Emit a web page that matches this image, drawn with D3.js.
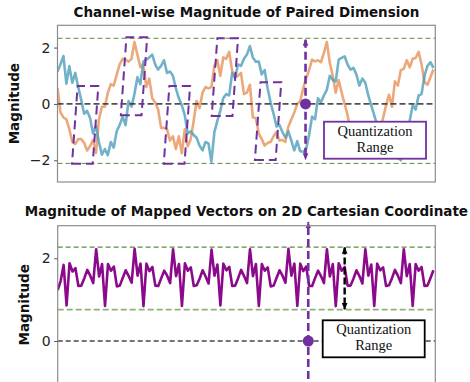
<!DOCTYPE html>
<html>
<head>
<meta charset="utf-8">
<script src="https://cdn.jsdelivr.net/npm/d3@7"></script>
<style>
  body { margin: 0; background: #fff; }
</style>
</head>
<body>
<div id="chart"></div>
<script>
// ---- data ----
const orangeVals = [0.56,-0.3,-0.48,-0.55,-0.9,-1.35,-1.42,-1.25,-1.25,-1.38,
  -1.65,-1.5,-1.28,-1.74,-0.55,-0.1,-0.1,0.39,0.7,0.65,
  1.04,1.4,1.6,1.57,1.5,1.6,2.2,1.75,1.3,1.4,
  0.6,0.9,0.2,0.05,-0.2,-0.85,-0.85,-0.9,-1.3,-1.15,
  -1.6,-1.15,-1.75,-0.9,-1.5,-1.25,-0.6,0.1,-0.15,0.4,
  0.6,0.55,0.6,1.35,1.55,1.0,1.65,1.6,1.85,1.18,
  0.95,1.0,1.1,0.35,0.4,0.68,-0.48,-0.5,-1.05,-1.25,
  -1.48,-1.38,-1.35,-1.15,-1.0,-1.3,-1.28,-1.35,-0.8,-0.55,
  -0.3,0.0,0.1,0.55,0.9,1.2,1.57,1.51,1.55,1.48,
  1.8,2.2,1.45,1.0,0.4,0.85,0.4,0.0,-0.4,-0.95,
  -1.25,-1.5,-1.65,-1.8,-1.7,-1.6,-1.75,-1.4,-1.2,-0.9,
  -0.5,-0.05,0.33,-0.1,0.8,0.65,1.2,1.25,1.55,1.3,
  1.6,1.63,1.85,1.4,0.78,0.68,0.95,1.22];

const blueVals = [1.15,1.4,1.7,0.72,1.34,0.75,1.1,0.6,0.15,-0.35,
  -0.25,-0.5,-1.05,-0.78,-1.35,-1.8,-1.6,-1.82,-1.35,-1.55,
  -0.97,-0.75,-0.45,-0.75,0.1,-0.1,0.35,0.95,0.7,1.5,
  1.57,1.65,1.75,1.4,1.22,1.35,1.55,1.1,1.15,1.0,
  0.55,0.2,-0.05,-0.4,-1.05,-0.97,-1.1,-1.2,-1.48,-1.65,
  -1.35,-1.4,-2.05,-1.0,-0.6,-0.25,0.2,0.35,0.3,1.1,
  0.92,1.4,1.35,1.6,1.75,2.05,1.65,1.5,1.5,1.05,
  1.2,0.55,0.05,-0.35,-0.8,-0.75,-1.0,-1.2,-0.97,-1.3,
  -1.65,-1.32,-1.68,-1.7,-1.6,-1.1,-0.45,-0.55,0.2,0.05,
  0.3,0.5,1.0,0.85,0.8,1.57,1.63,1.69,1.4,1.22,
  1.28,1.04,0.65,0.9,0.75,0.3,-0.05,-0.4,-0.75,-1.1,
  -1.3,-1.5,-1.7,-1.8,-1.85,-1.9,-2.0,-1.4,-0.95,-0.6,
  -0.05,-0.2,0.3,0.35,1.0,1.35,1.48,1.28];

const magnitudeVals = [1.23,1.45,1.84,0.86,1.88,1.68,1.76,1.33,1.34,1.52,1.72,1.58,1.40,
  2.22,1.56,1.86,0.85,1.86,1.70,1.80,1.32,1.34,1.53,1.71,1.57,1.41,
  2.23,1.58,1.87,0.84,1.87,1.69,1.79,1.34,1.33,1.52,1.70,1.58,1.40,
  2.22,1.57,1.86,0.85,1.88,1.70,1.78,1.33,1.35,1.51,1.71,1.56,1.39,
  2.21,1.58,1.85,0.86,1.87,1.71,1.79,1.33,1.34,1.52,1.72,1.57,1.40,
  2.22,1.57,1.86,0.85,1.86,1.70,1.78,1.32,1.34,1.53,1.71,1.58,1.41,
  2.23,1.58,1.87,0.85,1.87,1.69,1.80,1.33,1.33,1.52,1.70,1.57,1.40,
  2.22,1.56,1.86,0.84,1.88,1.70,1.79,1.34,1.34,1.51,1.71,1.57,1.39,
  2.22,1.58,1.85,0.85,1.87,1.71,1.78,1.33,1.35,1.52,1.72,1.58,1.40,
  2.22,1.57,1.86,0.85,1.86,1.70,1.79,1.33,1.34,1.52,1.71];

const topTicks = [-2, 0, 2];
const bottomTicks = [0, 2];
const topBounds = [2.33, -2.11];      // green dashed limits, upper chart
const bottomBounds = [2.27, 0.76];    // green dashed limits, lower chart

// slanted dashed boxes: start index (bottom-left), top value, bottom value
const boxStarts = [4.9, 21.4, 35.9, 52.1, 66.7];
const boxTops = [0.64, 2.37, 0.64, 2.33, 0.77];
const boxBottoms = [-2.12, -0.40, -2.12, -0.43, -1.99];

// arrows: [index, from, to]
const topRangeArrow = [83.8, 2.28, -1.97];
const bottomRangeArrow = [84.7, -1.5, 2.87];
const blackArrow = [97, 2.26, 0.77];

const titles = ['Channel-wise Magnitude of Paired Dimension',
                'Magnitude of Mapped Vectors on 2D Cartesian Coordinate'];
const boxLines = ['Quantization', 'Range'];

// ---- drawing ----
const width = 470, height = 382;
const purple = '#7030a0';
const green = '#5e8c3a';

const svg = d3.select('#chart').append('svg')
    .attr('width', width)
    .attr('height', height)
    .style('font-family', 'DejaVu Sans');

const defs = svg.append('defs');
function addMarker(id, color) {
    defs.append('marker')
        .attr('id', id)
        .attr('markerUnits', 'userSpaceOnUse')
        .attr('viewBox', '0 0 8 8')
        .attr('markerWidth', 7)
        .attr('markerHeight', 7)
        .attr('refX', 7)
        .attr('refY', 4)
        .attr('orient', 'auto-start-reverse')
        .append('path')
        .attr('d', 'M0,0.8 L8,4 L0,7.2 Z')
        .attr('fill', color);
}
addMarker('arrowPurple', purple);
addMarker('arrowBlack', '#000');

function frame(g, left, right, top, bottom, clipId) {
    defs.append('clipPath').attr('id', clipId)
        .append('rect')
        .attr('x', left).attr('y', top)
        .attr('width', right - left).attr('height', bottom - top);
    g.append('rect')
        .attr('x', left).attr('y', top)
        .attr('width', right - left).attr('height', bottom - top)
        .attr('fill', 'none')
        .attr('stroke', '#8c8c8c')
        .attr('stroke-width', 1.2);
}

function yAxis(g, scale, ticks, left) {
    const axis = d3.axisLeft(scale)
        .tickValues(ticks)
        .tickFormat(d3.format('d'))
        .tickSize(3.5)
        .tickPadding(3.5);
    const a = g.append('g')
        .attr('transform', 'translate(' + left + ',0)')
        .call(axis);
    a.select('.domain').remove();
    a.selectAll('.tick line').attr('stroke', '#555');
    a.selectAll('.tick text')
        .attr('font-size', 14)
        .attr('font-family', 'DejaVu Sans')
        .attr('fill', '#222');
}

function hLine(g, scale, xs, v, color, w, dash, opacity) {
    g.append('line')
        .attr('x1', xs[0]).attr('x2', xs[1])
        .attr('y1', scale(v)).attr('y2', scale(v))
        .attr('stroke', color)
        .attr('stroke-width', w)
        .attr('stroke-dasharray', dash)
        .attr('opacity', opacity);
}

function quantBox(g, cx, top, color, lineYs) {
    g.append('rect')
        .attr('x', cx - 51).attr('y', top)
        .attr('width', 102).attr('height', 37)
        .attr('fill', '#fff')
        .attr('stroke', color)
        .attr('stroke-width', 1.8);
    g.selectAll(null)
        .data(boxLines)
        .enter()
        .append('text')
        .attr('x', cx)
        .attr('y', (d, i) => lineYs[i])
        .attr('text-anchor', 'middle')
        .attr('font-family', 'Liberation Serif')
        .attr('font-size', 14.5)
        .attr('fill', '#111')
        .text(d => d);
}

function title(text, y) {
    svg.append('text')
        .attr('x', 246.4).attr('y', y)
        .attr('text-anchor', 'middle')
        .attr('font-weight', 'bold')
        .attr('font-size', 13.5)
        .attr('fill', '#111')
        .text(text);
}

function yLabel(x, y) {
    svg.append('text')
        .attr('transform', 'translate(' + x + ',' + y + ') rotate(-90)')
        .attr('text-anchor', 'middle')
        .attr('font-weight', 'bold')
        .attr('font-size', 13.5)
        .attr('fill', '#111')
        .text('Magnitude');
}

// ---------- upper chart ----------
const T = {left: 57.5, right: 435.3, top: 25.3, bottom: 182};
const xTop = d3.scaleLinear().domain([0, orangeVals.length - 1]).range([T.left, 433.4]);
const yTop = d3.scaleLinear().domain([-2.77, 2.79]).range([T.bottom, T.top]);

const gTop = svg.append('g');
const gTopData = gTop.append('g').attr('clip-path', 'url(#clipTop)');

topBounds.forEach(v => hLine(gTopData, yTop, [T.left, T.right], v, green, 1, '5,3', 1));

const lineTop = d3.line()
    .x((d, i) => xTop(i))
    .y(d => yTop(d));

gTopData.append('path')
    .datum(orangeVals)
    .attr('d', lineTop)
    .attr('fill', 'none')
    .attr('stroke', '#e8955e')
    .attr('stroke-opacity', 0.82)
    .attr('stroke-width', 2.6)
    .attr('stroke-linejoin', 'round');

gTopData.append('path')
    .datum(blueVals)
    .attr('d', lineTop)
    .attr('fill', 'none')
    .attr('stroke', '#4f9fba')
    .attr('stroke-opacity', 0.8)
    .attr('stroke-width', 2.6)
    .attr('stroke-linejoin', 'round');

hLine(gTopData, yTop, [T.left, T.right], 0, '#333', 1.8, '6,3', 0.85);

// slanted dashed boxes
const boxWidth = 7, boxSlant = 1.9;
gTop.selectAll('.slantBox')
    .data(boxStarts.map((s, i) => ({s: s, t: boxTops[i], b: boxBottoms[i]})))
    .enter()
    .append('polygon')
    .attr('class', 'slantBox')
    .attr('points', d => [
        [xTop(d.s), yTop(d.b)],
        [xTop(d.s + boxWidth), yTop(d.b)],
        [xTop(d.s + boxWidth + boxSlant), yTop(d.t)],
        [xTop(d.s + boxSlant), yTop(d.t)]
    ].map(p => p.join(',')).join(' '))
    .attr('fill', 'none')
    .attr('stroke', purple)
    .attr('stroke-width', 2)
    .attr('stroke-dasharray', '9,5');

// vertical range arrow (both ends)
gTop.append('line')
    .attr('x1', xTop(topRangeArrow[0])).attr('x2', xTop(topRangeArrow[0]))
    .attr('y1', yTop(topRangeArrow[1])).attr('y2', yTop(topRangeArrow[2]))
    .attr('stroke', purple)
    .attr('stroke-width', 2.6)
    .attr('stroke-dasharray', '8,4')
    .attr('marker-start', 'url(#arrowPurple)')
    .attr('marker-end', 'url(#arrowPurple)');

gTop.append('circle')
    .attr('cx', xTop(topRangeArrow[0])).attr('cy', yTop(0))
    .attr('r', 5.5)
    .attr('fill', purple);

quantBox(gTop, 375, 121.7, purple, [135.5, 152]);

frame(gTop, T.left, T.right, T.top, T.bottom, 'clipTop');
yAxis(gTop, yTop, topTicks, T.left);

title(titles[0], 17);
yLabel(18.5, (T.top + T.bottom) / 2);

// ---------- lower chart ----------
const B = {left: 57.7, right: 435.3, top: 225.7, bottom: 384};
const xBot = d3.scaleLinear().domain([0, magnitudeVals.length - 1]).range([B.left, 433.4]);
const yBot = d3.scaleLinear().domain([0, 2]).range([341, 258.3]);

const gBot = svg.append('g');
const gBotData = gBot.append('g').attr('clip-path', 'url(#clipBot)');

hLine(gBotData, yBot, [B.left, B.right], bottomBounds[0], green, 1.1, '5,3', 1);
hLine(gBotData, yBot, [B.left, B.right], bottomBounds[1], '#86a86a', 1.8, '6,3', 0.9);
hLine(gBotData, yBot, [B.left, B.right], 0, '#333', 1.3, '5,3', 0.9);

gBotData.append('path')
    .datum(magnitudeVals)
    .attr('d', d3.line().x((d, i) => xBot(i)).y(d => yBot(d)))
    .attr('fill', 'none')
    .attr('stroke', '#8b0a8b')
    .attr('stroke-width', 2.6)
    .attr('stroke-linejoin', 'round');

gBot.append('line')
    .attr('x1', xBot(bottomRangeArrow[0])).attr('x2', xBot(bottomRangeArrow[0]))
    .attr('y1', yBot(bottomRangeArrow[1])).attr('y2', yBot(bottomRangeArrow[2]))
    .attr('stroke', purple)
    .attr('stroke-width', 2.6)
    .attr('stroke-dasharray', '8,4')
    .attr('marker-end', 'url(#arrowPurple)');

gBot.append('circle')
    .attr('cx', xBot(bottomRangeArrow[0])).attr('cy', yBot(0))
    .attr('r', 5.5)
    .attr('fill', purple);

gBot.append('line')
    .attr('x1', xBot(blackArrow[0])).attr('x2', xBot(blackArrow[0]))
    .attr('y1', yBot(blackArrow[1])).attr('y2', yBot(blackArrow[2]))
    .attr('stroke', '#000')
    .attr('stroke-width', 2.4)
    .attr('stroke-dasharray', '7,3')
    .attr('marker-start', 'url(#arrowBlack)')
    .attr('marker-end', 'url(#arrowBlack)');

quantBox(gBot, 373.7, 320.3, '#000', [333.5, 350]);

frame(gBot, B.left, B.right, B.top, B.bottom, 'clipBot');
yAxis(gBot, yBot, bottomTicks, B.left);

title(titles[1], 215.5);
yLabel(29, (B.top + B.bottom) / 2);
</script>
</body>
</html>
